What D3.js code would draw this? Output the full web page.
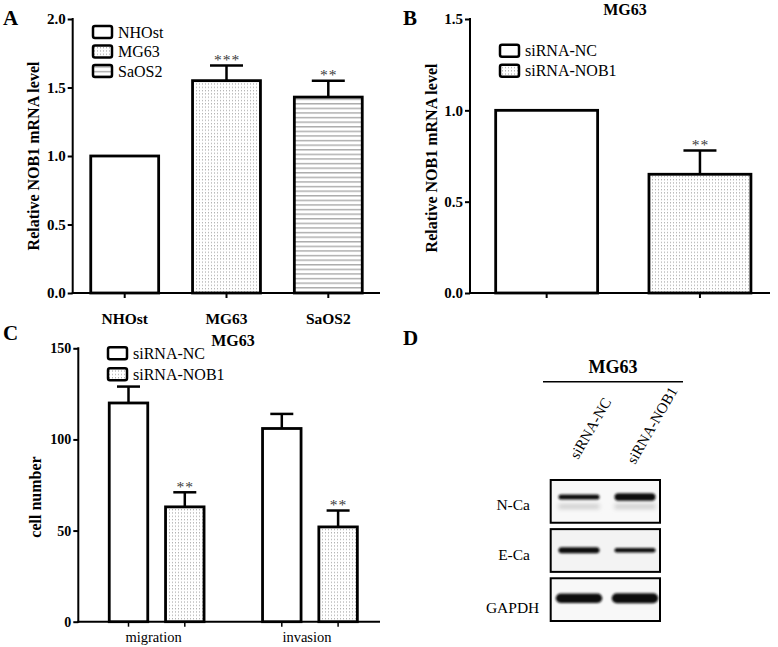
<!DOCTYPE html>
<html><head><meta charset="utf-8">
<script src="https://cdn.jsdelivr.net/npm/d3@7"></script>
<style>
body{margin:0;background:#fff}
svg{display:block}
text{font-family:"Liberation Serif","Times New Roman",serif;fill:#000}
</style>
</head><body>
<svg id="chart" width="778" height="647"></svg>
<script>
// ---------------- DATA ----------------
// Panel A
const aCategories = ["NHOst", "MG63", "SaOS2"];
const aValues = [1.00, 1.55, 1.43];
const aErrors = [0, 0.11, 0.12];
const aSig = ["", "***", "**"];
const aYTicks = [0, 0.5, 1.0, 1.5, 2.0];
// Panel B
const bTitle = "MG63";
const bCategories = ["siRNA-NC", "siRNA-NOB1"];
const bValues = [1.00, 0.65];
const bErrors = [0, 0.13];
const bSig = ["", "**"];
const bYTicks = [0, 0.5, 1.0, 1.5];
// Panel C
const cTitle = "MG63";
const cGroups = ["migration", "invasion"];
const cSeries = ["siRNA-NC", "siRNA-NOB1"];
const cNC = [120, 106];
const cNCErr = [9, 8];
const cNOB1 = [63, 52];
const cNOB1Err = [8, 9];
const cSigNC = ["", ""];
const cSigNOB1 = ["**", "**"];
const cYTicks = [0, 50, 100, 150];
// Panel D (western blot)
const dTitle = "MG63";
const blotLanes = ["siRNA-NC", "siRNA-NOB1"];
const blotProteins = ["N-Ca", "E-Ca", "GAPDH"];
const blotNCa = [0.50, 0.75];
const blotECa = [0.60, 0.45];
const blotGAPDH = [0.95, 1.00];

// ---------------- DRAWING ----------------
const svg = d3.select("#chart");
const defs = svg.append("defs");

// patterns
const dots = defs.append("pattern").attr("id", "dots").attr("patternUnits", "userSpaceOnUse")
  .attr("width", 3).attr("height", 3.3);
dots.append("rect").attr("width", 3).attr("height", 3.3).attr("fill", "#fff");
dots.append("rect").attr("x", 1).attr("y", 1).attr("width", 1).attr("height", 1).attr("fill", "#9a9a9a");

const hlines = defs.append("pattern").attr("id", "hlines").attr("patternUnits", "userSpaceOnUse")
  .attr("width", 6).attr("height", 4.6);
hlines.append("rect").attr("width", 6).attr("height", 4.6).attr("fill", "#fff");
hlines.append("rect").attr("y", 2).attr("width", 6).attr("height", 1.2).attr("fill", "#9c9c9c");

const blur = defs.append("filter").attr("id", "blur").attr("x", "-20%").attr("y", "-100%")
  .attr("width", "140%").attr("height", "300%");
blur.append("feGaussianBlur").attr("stdDeviation", 1.1);
const blur2 = defs.append("filter").attr("id", "blur2").attr("x", "-20%").attr("y", "-200%")
  .attr("width", "140%").attr("height", "500%");
blur2.append("feGaussianBlur").attr("stdDeviation", 2.2);

const FONT_TICK = 15;

function panelLetter(x, y, t) {
  svg.append("text").attr("x", x).attr("y", y).attr("font-size", 21)
    .attr("font-weight", "bold").text(t);
}

function drawYAxis(y, x0, ticks, fmt, xEnd, fontSize) {
  const g = svg.append("g").attr("transform", `translate(${x0},0)`)
    .call(d3.axisLeft(y).tickValues(ticks).tickFormat(fmt).tickSize(5).tickSizeOuter(0).tickPadding(2));
  g.select(".domain").remove();
  g.selectAll(".tick line").attr("stroke", "#000").attr("stroke-width", 2);
  g.selectAll(".tick text").attr("font-size", fontSize).attr("font-weight", "bold")
    .attr("font-family", '"Liberation Serif","Times New Roman",serif').attr("fill", "#000");
  const r = y.range();
  svg.append("line").attr("x1", x0).attr("x2", x0).attr("y1", r[0] + 1).attr("y2", r[1] - 1)
    .attr("stroke", "#000").attr("stroke-width", 2);
  svg.append("line").attr("x1", x0 - 1).attr("x2", xEnd).attr("y1", r[0]).attr("y2", r[0])
    .attr("stroke", "#000").attr("stroke-width", 2);
}

function yTitle(x, y, t) {
  svg.append("text").attr("transform", `translate(${x},${y}) rotate(-90)`)
    .attr("text-anchor", "middle").attr("font-size", 16).attr("font-weight", "bold").text(t);
}

function legend(x, y0, step, items) {
  const g = svg.append("g");
  items.forEach((it, i) => {
    const cy = y0 + i * step;
    g.append("rect").attr("x", x).attr("y", cy - 6).attr("width", 19).attr("height", 12)
      .attr("rx", 2).attr("fill", it.fill).attr("stroke", "#000").attr("stroke-width", 2.5);
    g.append("text").attr("x", x + 25).attr("y", cy + 5.5).attr("font-size", 16).text(it.label);
  });
}

function bars(data, xf, wf, y, capW) {
  const g = svg.append("g");
  data.forEach(d => {
    const x = xf(d), w = wf(d);
    const yTop = y(d.v);
    if (d.e > 0) {
      const yE = y(d.v + d.e);
      g.append("line").attr("x1", x + w / 2).attr("x2", x + w / 2).attr("y1", yTop).attr("y2", yE)
        .attr("stroke", "#000").attr("stroke-width", 2.5);
      g.append("line").attr("x1", x + w / 2 - capW / 2).attr("x2", x + w / 2 + capW / 2)
        .attr("y1", yE).attr("y2", yE).attr("stroke", "#000").attr("stroke-width", 2.5);
    }
    g.append("rect").attr("x", x).attr("y", yTop).attr("width", w).attr("height", y(0) - yTop)
      .attr("fill", d.fill).attr("stroke", "#000").attr("stroke-width", 2.8);
    if (d.sig) {
      g.append("text").attr("x", x + w / 2 + 0.5).attr("y", y(d.v + d.e) - 0.5)
        .attr("text-anchor", "middle").attr("font-size", 15.5)
        .attr("letter-spacing", 1).style("fill", "#3a3a3a").text(d.sig);
    }
  });
}

// ======== Panel A ========
panelLetter(3, 25, "A");
const aFills = ["#fff", "url(#dots)", "url(#hlines)"];
const aY = d3.scaleLinear().domain([0, 2]).range([293, 19]);
const aX = d3.scaleBand().domain(aCategories).range([73.8, 379.2]).paddingInner(0.333).paddingOuter(0.1665);
drawYAxis(aY, 72.7, aYTicks, d3.format(".1f"), 380, FONT_TICK);
{
  const g = svg.append("g").attr("transform", `translate(0,${aY(0)})`)
    .call(d3.axisBottom(aX).tickSize(5).tickSizeOuter(0).tickPadding(15));
  g.select(".domain").remove();
  g.selectAll(".tick line").attr("stroke", "#000").attr("stroke-width", 2);
  g.selectAll(".tick text").attr("font-size", 15.5).attr("font-weight", "bold")
    .attr("font-family", '"Liberation Serif","Times New Roman",serif').attr("fill", "#000");
}
bars(aCategories.map((c, i) => ({ c, v: aValues[i], e: aErrors[i], sig: aSig[i], fill: aFills[i] })),
  d => aX(d.c), () => aX.bandwidth(), aY, 33);
yTitle(39, 156, "Relative NOB1 mRNA level");
legend(93, 32, 19.5, aCategories.map((c, i) => ({ label: c, fill: aFills[i] })));

// ======== Panel B ========
panelLetter(403, 25, "B");
const bFills = ["#fff", "url(#dots)"];
const bY = d3.scaleLinear().domain([0, 1.5]).range([293, 19]);
const bX = d3.scaleBand().domain(bCategories).range([470, 776.6]).paddingInner(0.335).paddingOuter(0.1675);
drawYAxis(bY, 470, bYTicks, d3.format(".1f"), 770, FONT_TICK);
{
  const g = svg.append("g").attr("transform", `translate(0,${bY(0)})`)
    .call(d3.axisBottom(bX).tickSize(5).tickSizeOuter(0).tickFormat(""));
  g.select(".domain").remove();
  g.selectAll(".tick line").attr("stroke", "#000").attr("stroke-width", 2);
}
bars(bCategories.map((c, i) => ({ c, v: bValues[i], e: bErrors[i], sig: bSig[i], fill: bFills[i] })),
  d => bX(d.c), () => bX.bandwidth(), bY, 33);
svg.append("text").attr("x", 625).attr("y", 15).attr("text-anchor", "middle")
  .attr("font-size", 16).attr("font-weight", "bold").text(bTitle);
yTitle(437, 158, "Relative NOB1 mRNA level");
legend(500, 50.7, 20, bCategories.map((c, i) => ({ label: c, fill: bFills[i] })));

// ======== Panel C ========
panelLetter(3, 340, "C");
const cFills = ["#fff", "url(#dots)"];
const cY = d3.scaleLinear().domain([0, 150]).range([621.7, 348.3]);
const cX0 = d3.scaleBand().domain(cGroups).range([80, 386.6]);
const cX1 = d3.scaleBand().domain(cSeries)
  .range([cX0.bandwidth() / 2 - 56.3, cX0.bandwidth() / 2 + 56.3]).paddingInner(0.316).paddingOuter(0.158);
drawYAxis(cY, 78.3, cYTicks, d3.format("d"), 380, 14);
const cData = [];
cGroups.forEach((g, gi) => {
  cData.push({ g, s: cSeries[0], v: cNC[gi], e: cNCErr[gi], sig: cSigNC[gi], fill: cFills[0] });
  cData.push({ g, s: cSeries[1], v: cNOB1[gi], e: cNOB1Err[gi], sig: cSigNOB1[gi], fill: cFills[1] });
});
// ticks at bar centres
svg.append("g").selectAll("line").data(cData).join("line")
  .attr("x1", d => cX0(d.g) + cX1(d.s) + cX1.bandwidth() / 2)
  .attr("x2", d => cX0(d.g) + cX1(d.s) + cX1.bandwidth() / 2)
  .attr("y1", cY(0)).attr("y2", cY(0) + 5).attr("stroke", "#000").attr("stroke-width", 1.5);
svg.append("g").selectAll("text").data(cGroups).join("text")
  .attr("x", d => cX0(d) + cX0.bandwidth() / 2 - 3).attr("y", 642)
  .attr("text-anchor", "middle").attr("font-size", 14.5).text(d => d);
bars(cData, d => cX0(d.g) + cX1(d.s), () => cX1.bandwidth(), cY, 23);
svg.append("text").attr("x", 233).attr("y", 345.5).attr("text-anchor", "middle")
  .attr("font-size", 16).attr("font-weight", "bold").text(cTitle);
yTitle(41, 497, "cell number");
legend(108, 353.3, 21, cSeries.map((c, i) => ({ label: c, fill: cFills[i] })));

// ======== Panel D ========
panelLetter(403, 345, "D");
svg.append("text").attr("x", 613).attr("y", 373).attr("text-anchor", "middle")
  .attr("font-size", 18).attr("font-weight", "bold").text(dTitle);
svg.append("line").attr("x1", 543).attr("x2", 683).attr("y1", 381.7).attr("y2", 381.7)
  .attr("stroke", "#000").attr("stroke-width", 1.5);

const laneX = d3.scaleBand().domain(blotLanes).range([552, 660]);
const rowY = d3.scaleBand().domain(blotProteins).range([480, 621]).paddingInner(0.13);
// lane labels (rotated)
svg.append("g").selectAll("text").data(blotLanes).join("text")
  .attr("transform", (d, i) => {
    const cx = laneX(d) + laneX.bandwidth() / 2;
    return `translate(${cx - 1 + i * 3},${460 + i * 5}) rotate(-60)`;
  })
  .attr("font-size", 15).text(d => d);

const blotData = [blotNCa, blotECa, blotGAPDH];
blotProteins.forEach((p, pi) => {
  const y0 = rowY(p), h = rowY.bandwidth();
  svg.append("rect").attr("x", 550.7).attr("y", y0).attr("width", 109.3).attr("height", h)
    .attr("fill", pi === 1 ? "#f3f3f3" : "#f8f8f8").attr("stroke", "#000").attr("stroke-width", 2);
  svg.append("text").attr("x", p === "GAPDH" ? 539.3 : 530).attr("y", y0 + h / 2 + 5 + (pi === 2 ? 8 : 4))
    .attr("text-anchor", "end").attr("font-size", 15.5).text(p);
  const vals = blotData[pi];
  const bandY = pi === 0 ? y0 + 17 : pi === 1 ? y0 + 21 : y0 + 20;
  blotLanes.forEach((l, li) => {
    const th = 10 * vals[li];
    const cx = laneX(l) + laneX.bandwidth() / 2 + (li === 1 ? 2 : 0);
    const w = laneX.bandwidth() * (pi === 2 ? 0.86 : 0.76);
    if (pi === 0) {
      svg.append("rect").attr("x", cx - w / 2).attr("y", bandY + 7).attr("width", w).attr("height", 5)
        .attr("fill", "#cfcfcf").attr("filter", "url(#blur2)");
    }
    svg.append("rect").attr("x", cx - w / 2).attr("y", bandY - th / 2).attr("width", w).attr("height", th)
      .attr("rx", th / 2).attr("fill", "#111").attr("filter", "url(#blur)");
  });
});
</script>
</body></html>
